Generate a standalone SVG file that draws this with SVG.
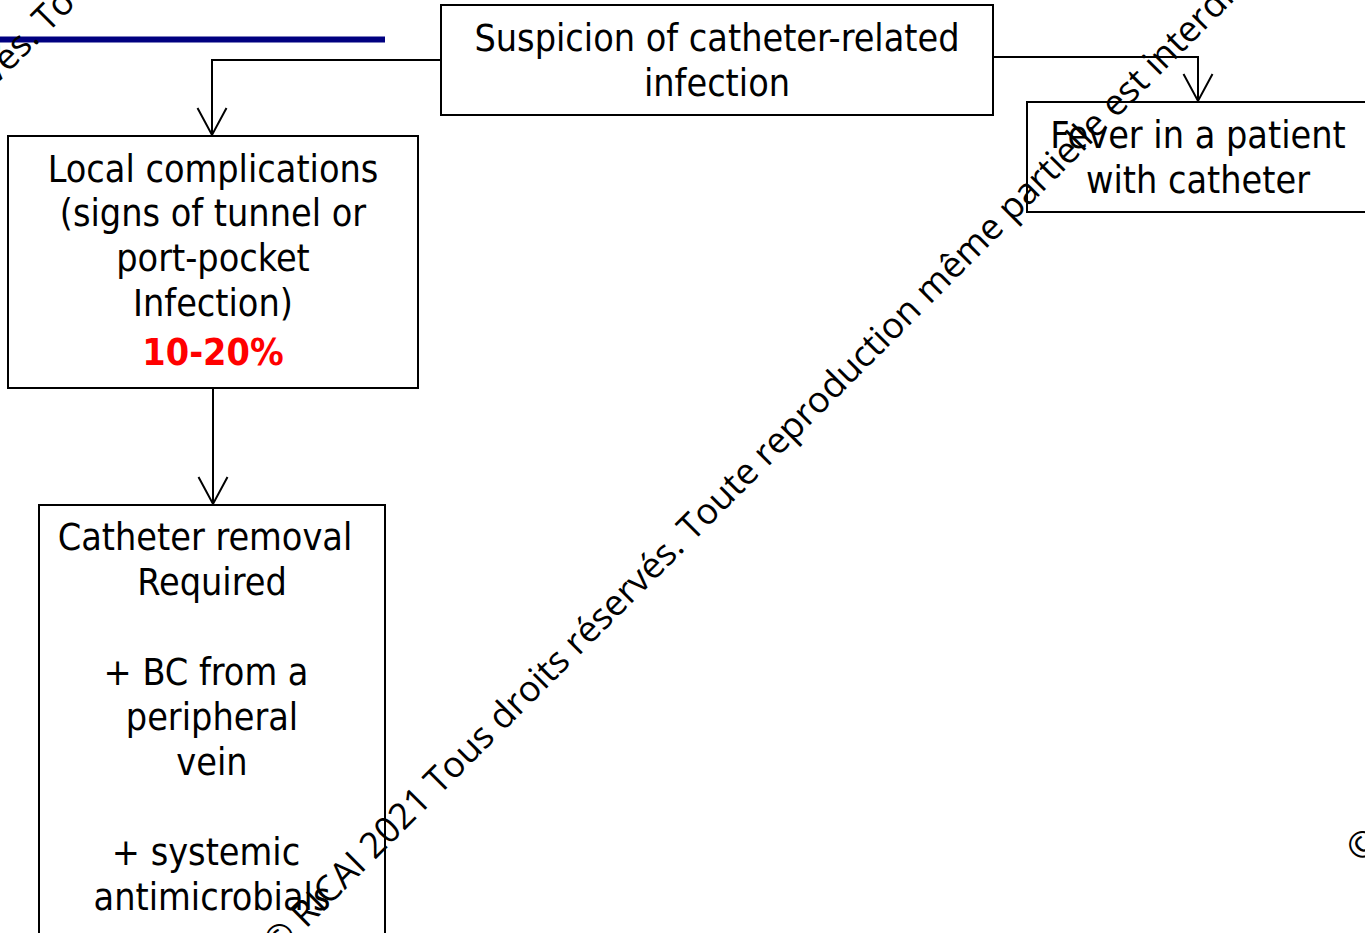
<svg xmlns="http://www.w3.org/2000/svg" width="1365" height="933" viewBox="0 0 1365 933">
<style>
.box{fill:#ffffff;stroke:#000000;stroke-width:2}
.t{font-family:"DejaVu Sans Condensed","DejaVu Sans",sans-serif;font-stretch:condensed;font-size:37.4px;fill:#000000;text-anchor:middle}
.red{font-weight:bold;fill:#ff0000}
.conn{fill:none;stroke:#000000;stroke-width:2}
.wm{font-family:"Open Sans","Noto Sans",sans-serif;font-size:36px;fill:#000000}
</style>
<defs>
<marker id="arr" markerUnits="userSpaceOnUse" markerWidth="40" markerHeight="40" refX="0" refY="0" orient="auto" overflow="visible">
<path d="M -27 -14.5 L 0 0 L -27 14.5" fill="none" stroke="#000000" stroke-width="2"/>
</marker>
</defs>
<rect x="0" y="36.5" width="385" height="6" fill="#000080"/>
<g id="connectors">
<path class="conn" d="M 441 60 L 212 60 L 212 135" marker-end="url(#arr)"/>
<path class="conn" d="M 213 388 L 213 504" marker-end="url(#arr)"/>
<path class="conn" d="M 993 57 L 1198 57 L 1198 101" marker-end="url(#arr)"/>
</g>
<g id="node-suspicion">
<rect class="box" x="441" y="5" width="552" height="110"/>
<text class="t" x="717" y="51">Suspicion of catheter-related</text>
<text class="t" x="717" y="96">infection</text>
</g>
<g id="node-local">
<rect class="box" x="8" y="136" width="410" height="252"/>
<text class="t" x="213" y="182">Local complications</text>
<text class="t" x="213" y="226">(signs of tunnel or</text>
<text class="t" x="213" y="271">port-pocket</text>
<text class="t" x="213" y="316">Infection)</text>
<text class="t red" x="213" y="365">10-20%</text>
</g>
<g id="node-removal">
<rect class="box" x="39" y="505" width="346" height="440"/>
<text class="t" x="205" y="550">Catheter removal</text>
<text class="t" x="212" y="595">Required</text>
<text class="t" x="206" y="685">+ BC from a</text>
<text class="t" x="212" y="730">peripheral</text>
<text class="t" x="212" y="775">vein</text>
<text class="t" x="206" y="865">+ systemic</text>
<text class="t" x="212" y="910">antimicrobials</text>
</g>
<g id="node-fever">
<rect class="box" x="1027" y="102" width="350" height="110"/>
<text class="t" x="1198" y="148">Fever in a patient</text>
<text class="t" x="1198" y="193">with catheter</text>
</g>
<g id="watermark">
<text class="wm" x="278" y="957" transform="rotate(-45 278 957)">© RICAI 2021 Tous droits réservés. Toute reproduction même partielle est interdite</text>
<text class="wm" x="-367" y="448" transform="rotate(-45 -367 448)">© RICAI 2021 Tous droits réservés. Toute reproduction même partielle est interdite</text>
<text class="wm" x="1361" y="864" transform="rotate(-45 1361 864)">© RICAI 2021 Tous droits réservés. Toute reproduction même partielle est interdite</text>
</g>
</svg>
